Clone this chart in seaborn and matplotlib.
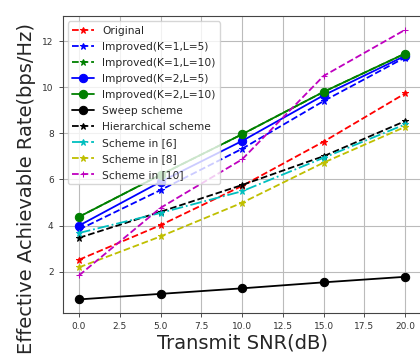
import numpy as np
import pandas as pd
import matplotlib
matplotlib.use("Agg")
import matplotlib.pyplot as plt
import seaborn as sns

# data
snr = [0, 5, 10, 15, 20]
original = [2.52, 4.02, 5.72, 7.64, 9.73]
imp_k1_l5 = [3.83, 5.54, 7.33, 9.40, 11.29]
imp_k1_l10 = [4.38, 6.20, 7.96, 9.80, 11.46]
imp_k2_l5 = [4.00, 5.90, 7.67, 9.65, 11.36]
imp_k2_l10 = [4.38, 6.20, 7.96, 9.80, 11.46]
sweep = [0.80, 1.04, 1.28, 1.54, 1.78]
hierarchical = [3.47, 4.60, 5.76, 7.01, 8.53]
scheme6 = [3.68, 4.55, 5.49, 6.94, 8.39]
scheme8 = [2.19, 3.53, 4.99, 6.73, 8.28]
scheme10 = [1.84, 4.77, 6.87, 10.49, 12.49]

names = ["Original", "Improved(K=1,L=5)", "Improved(K=1,L=10)", "Improved(K=2,L=5)",
         "Improved(K=2,L=10)", "Sweep scheme", "Hierarchical scheme",
         "Scheme in [6]", "Scheme in [8]", "Scheme in [10]"]
values = [original, imp_k1_l5, imp_k1_l10, imp_k2_l5, imp_k2_l10,
          sweep, hierarchical, scheme6, scheme8, scheme10]
styles = [("r", "--", "*"), ("b", "--", "*"), ("g", "--", "*"), ("b", "-", "o"),
          ("g", "-", "o"), ("k", "-", "o"), ("k", "--", "*"), ("c", "-.", "*"),
          ("y", "--", "*"), ("m", "--", "+")]

df = pd.DataFrame({
    "snr": snr * len(names),
    "rate": np.concatenate(values),
    "scheme": np.repeat(names, len(snr)),
})

sns.set_style("ticks")
plt.rcParams["font.family"] = ["DejaVu Sans"]

fig = plt.figure(figsize=(4.2, 3.58), dpi=100)
ax = fig.add_axes([0.1493, 0.126, 0.854, 0.829])

for name, (c, ls, mk) in zip(names, styles):
    ms = 6 if mk == "o" else 5
    sns.lineplot(data=df[df.scheme == name], x="snr", y="rate", color=c,
                 linestyle=ls, marker=mk, markersize=ms, markeredgecolor=c,
                 linewidth=1.3, label=name, ax=ax)

ax.set_xlim(-1, 21)
ax.set_ylim(0.215, 13.085)
ax.set_xticks(np.arange(0, 20.1, 2.5))
ax.set_xticklabels([f"{v:.1f}" for v in np.arange(0, 20.1, 2.5)])
ax.set_yticks([2, 4, 6, 8, 10, 12])
ax.grid(True, color="#bbbbbb", linewidth=0.8)
ax.tick_params(labelsize=6.5, colors="#333333", length=3, width=0.6)
for s in ax.spines.values():
    s.set_color("#444444")
    s.set_linewidth(0.8)
ax.set_xlabel("Transmit SNR(dB)", fontsize=14, labelpad=2)
ax.set_ylabel("Effective Achievable Rate(bps/Hz)", fontsize=14)
ax.yaxis.set_label_coords(-0.075, 0.42)
ax.legend(loc="upper left", fontsize=7.7, handlelength=2.0, labelspacing=0.56,
          borderpad=0.4, framealpha=0.8)

plt.savefig("out.png", dpi=100)
